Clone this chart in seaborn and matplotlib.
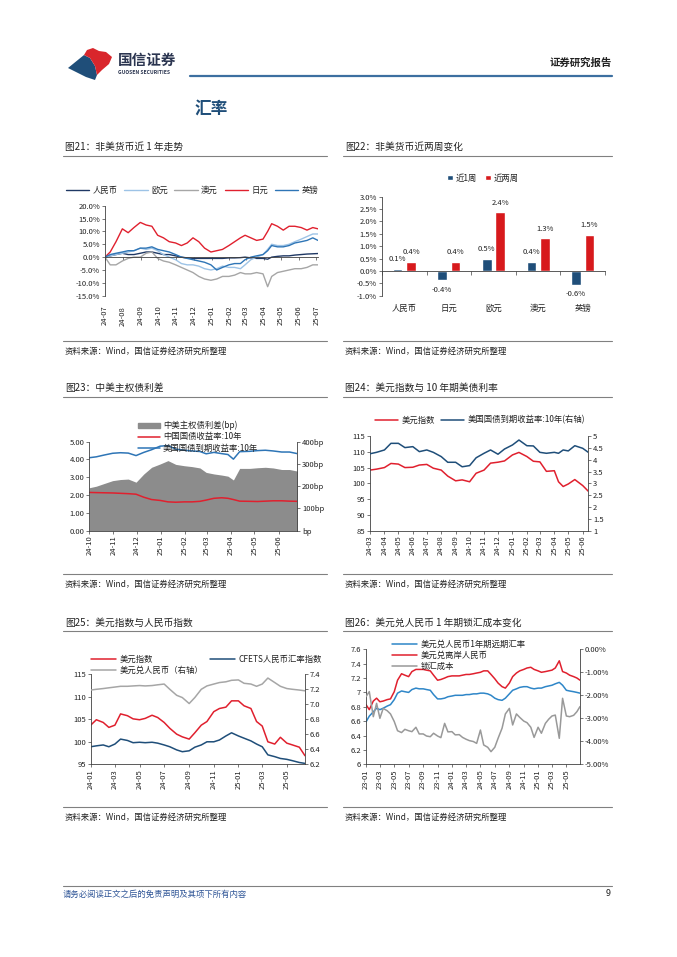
import pandas as pd
import matplotlib
matplotlib.use('Agg')
import matplotlib.pyplot as plt
import matplotlib.dates as mdates
import matplotlib.ticker as mticker
from matplotlib.lines import Line2D
from matplotlib.patches import Polygon, Patch
import seaborn as sns

sns.set_style('ticks')
plt.rcParams['font.family'] = ['Noto Sans CJK SC', 'DejaVu Sans']
plt.rcParams['axes.unicode_minus'] = False

W, H = 677, 957

# ---------------- data ----------------
# 图21 非美货币近1年走势 (%)
d21 = ['2024-07-01', '2024-07-10', '2024-07-20', '2024-07-31', '2024-08-10', '2024-08-20', '2024-08-31',
       '2024-09-10', '2024-09-20', '2024-09-30', '2024-10-10', '2024-10-20', '2024-10-31', '2024-11-10',
       '2024-11-20', '2024-11-30', '2024-12-10', '2024-12-20', '2024-12-31', '2025-01-10', '2025-01-20',
       '2025-01-31', '2025-02-10', '2025-02-20', '2025-02-28', '2025-03-10', '2025-03-20', '2025-03-31',
       '2025-04-08', '2025-04-15', '2025-04-25', '2025-05-05', '2025-05-15', '2025-05-25', '2025-06-05',
       '2025-06-15', '2025-06-25', '2025-07-04']
cny21 = [0, 0.5, 1, 1.5, 1, 1, 1.5, 2, 2, 1.5, 1, 1, 0.5, 0, -0.3, -0.5, -0.5, -0.5, -0.5, -0.5,
         -0.5, -0.3, -0.3, -0.2, 0, -0.3, -0.5, -0.5, -0.8, 0, 0.3, 0.5, 0.5, 0.8, 1, 1.2, 1.3, 1.4]
eur21 = [0, 0.5, 1, 1.5, 2, 2.5, 3.5, 3, 3.5, 2.5, 1, 0, -1, -2.5, -3, -3, -3.5, -4.5, -5, -4.5,
         -3.5, -4, -4, -4.5, -3, -1, 0, 1, 3, 5, 4.5, 4.5, 5, 6, 7, 8, 9, 9]
aud21 = [0, -3, -3, -1.5, -0.5, 0, 0, 1.5, 2, -0.5, -1.5, -2, -3, -4, -5, -6, -7.5, -8.5, -9, -8.5,
         -7.5, -7.5, -7, -6, -6.5, -6.5, -6, -6.5, -11.5, -7.5, -6, -5.5, -5, -4.5, -4.5, -4, -3, -3]
jpy21 = [0, 2, 6, 11, 9.5, 11.5, 13.5, 12.5, 12, 8.5, 7.5, 6, 5.5, 4.5, 5.5, 7.5, 6, 3.5, 2, 2.5,
         3, 4.5, 6, 7.5, 8.5, 7.5, 6.5, 7, 10, 13, 12, 10.5, 12, 12, 11.5, 10.5, 11.5, 11]
gbp21 = [0, 1, 1.5, 2, 2.5, 2.5, 3.5, 3.5, 4, 3, 2.5, 2, 1, 0, -0.5, -1, -1.5, -2, -3, -5,
         -4, -3, -2.5, -2.5, -1, 0, 0.5, 1, 2.5, 4.5, 4, 4, 4.5, 5.5, 6, 6.5, 7.5, 6.5]

# 图22 非美货币近两周变化 (%)
cats22 = ['人民币', '日元', '欧元', '澳元', '英镑']
wk1_22 = [0.08, -0.37, 0.50, 0.38, -0.56]
wk2_22 = [0.36, 0.38, 2.37, 1.32, 1.46]

# 图23 中美主权债利差
d23 = ['2024-10-01', '2024-10-10', '2024-10-20', '2024-10-31', '2024-11-10', '2024-11-20', '2024-11-30',
       '2024-12-10', '2024-12-20', '2024-12-31', '2025-01-10', '2025-01-20', '2025-01-31', '2025-02-10',
       '2025-02-20', '2025-02-28', '2025-03-10', '2025-03-20', '2025-03-28', '2025-04-04', '2025-04-12',
       '2025-04-25', '2025-05-05', '2025-05-15', '2025-05-25', '2025-06-05', '2025-06-15', '2025-06-25']
spread23 = [193, 200, 212, 225, 230, 232, 218, 255, 285, 300, 315, 298, 292, 288, 282, 262, 255, 250,
            245, 228, 280, 280, 283, 285, 282, 275, 275, 268]
cn23 = [2.15, 2.14, 2.13, 2.12, 2.10, 2.08, 2.05, 1.88, 1.75, 1.70, 1.62, 1.60, 1.62, 1.62, 1.65, 1.72,
        1.82, 1.85, 1.82, 1.75, 1.66, 1.65, 1.64, 1.66, 1.68, 1.68, 1.66, 1.65]
us23 = [4.10, 4.15, 4.25, 4.35, 4.38, 4.36, 4.22, 4.40, 4.55, 4.75, 4.78, 4.58, 4.52, 4.48, 4.45, 4.32,
        4.40, 4.33, 4.28, 4.02, 4.44, 4.46, 4.50, 4.52, 4.48, 4.42, 4.42, 4.33]

# 图24 美元指数与10年期美债利率
d24 = ['2024-03-01', '2024-03-15', '2024-04-01', '2024-04-15', '2024-05-01', '2024-05-15', '2024-06-01',
       '2024-06-15', '2024-07-01', '2024-07-15', '2024-08-01', '2024-08-15', '2024-09-01', '2024-09-15',
       '2024-10-01', '2024-10-15', '2024-11-01', '2024-11-15', '2024-12-01', '2024-12-15', '2025-01-01',
       '2025-01-15', '2025-02-01', '2025-02-15', '2025-03-01', '2025-03-15', '2025-04-01', '2025-04-10',
       '2025-04-20', '2025-05-01', '2025-05-15', '2025-06-01', '2025-06-13']
dxy24 = [104.2, 104.5, 105.0, 106.3, 106.1, 105.0, 105.1, 105.8, 106.0, 104.8, 104.2, 102.3, 100.8,
         101.1, 100.5, 103.2, 104.2, 106.4, 106.7, 107.1, 109.0, 109.8, 108.5, 107.0, 106.8, 103.8,
         104.0, 100.5, 99.0, 99.8, 101.2, 99.3, 97.5]
us24 = [4.25, 4.31, 4.41, 4.69, 4.69, 4.51, 4.55, 4.34, 4.41, 4.31, 4.13, 3.89, 3.89, 3.70, 3.75, 4.08,
        4.27, 4.41, 4.23, 4.45, 4.62, 4.83, 4.59, 4.58, 4.31, 4.27, 4.31, 4.27, 4.41, 4.37, 4.59, 4.48, 4.31]

# 图25 美元指数与人民币指数
d25 = ['2024-01-01', '2024-01-15', '2024-02-01', '2024-02-15', '2024-03-01', '2024-03-15', '2024-04-01',
       '2024-04-15', '2024-05-01', '2024-05-15', '2024-06-01', '2024-06-15', '2024-07-01', '2024-07-15',
       '2024-08-01', '2024-08-15', '2024-09-01', '2024-09-15', '2024-10-01', '2024-10-15', '2024-11-01',
       '2024-11-15', '2024-12-01', '2024-12-15', '2025-01-01', '2025-01-15', '2025-02-01', '2025-02-15',
       '2025-03-01', '2025-03-15', '2025-04-01', '2025-04-15', '2025-05-01', '2025-05-15', '2025-06-01',
       '2025-06-15']
dxy25 = [103.7, 104.9, 104.3, 103.2, 103.7, 106.2, 105.8, 105.1, 104.9, 105.2, 105.9, 105.4, 104.3,
         103.0, 101.7, 101.1, 100.6, 102.0, 103.7, 104.5, 106.7, 107.4, 107.7, 109.1, 109.1, 108.0,
         107.4, 104.5, 103.5, 100.0, 99.5, 101.0, 99.7, 99.3, 98.8, 96.9]
cfets25 = [98.9, 99.1, 99.3, 98.9, 99.5, 100.6, 100.3, 99.8, 99.9, 99.8, 99.9, 99.7, 99.3, 98.9, 98.2,
           97.8, 98.0, 98.8, 99.3, 100.0, 100.0, 100.4, 101.3, 102.0, 101.3, 100.8, 100.2, 99.5, 98.9,
           97.1, 96.7, 96.3, 96.1, 95.8, 95.4, 95.2]
usdcny25 = [7.19, 7.20, 7.21, 7.22, 7.23, 7.24, 7.24, 7.245, 7.25, 7.245, 7.25, 7.26, 7.27, 7.20, 7.12,
            7.09, 7.01, 7.09, 7.20, 7.245, 7.27, 7.29, 7.30, 7.32, 7.325, 7.28, 7.27, 7.24, 7.27, 7.35,
            7.29, 7.24, 7.21, 7.20, 7.19, 7.18]

# 图26 美元兑人民币1年期锁汇成本变化
d26 = ['2023-01-01', '2023-01-15', '2023-02-01', '2023-02-15', '2023-03-01', '2023-03-15', '2023-04-01',
       '2023-04-15', '2023-05-01', '2023-05-15', '2023-06-01', '2023-06-15', '2023-07-01', '2023-07-15',
       '2023-08-01', '2023-08-15', '2023-09-01', '2023-09-15', '2023-10-01', '2023-10-15', '2023-11-01',
       '2023-11-15', '2023-12-01', '2023-12-15', '2024-01-01', '2024-01-15', '2024-02-01', '2024-02-15',
       '2024-03-01', '2024-03-15', '2024-04-01', '2024-04-15', '2024-05-01', '2024-05-15', '2024-06-01',
       '2024-06-15', '2024-07-01', '2024-07-15', '2024-08-01', '2024-08-15', '2024-09-01', '2024-09-15',
       '2024-10-01', '2024-10-15', '2024-11-01', '2024-11-15', '2024-12-01', '2024-12-15', '2025-01-01',
       '2025-01-15', '2025-02-01', '2025-02-15', '2025-03-01', '2025-03-15', '2025-04-01', '2025-04-15',
       '2025-05-01', '2025-05-15', '2025-06-01', '2025-06-15', '2025-06-28']
fwd26 = [6.59, 6.67, 6.73, 6.78, 6.76, 6.78, 6.81, 6.83, 6.90, 6.99, 7.02, 7.01, 7.00, 7.04, 7.06, 7.05,
         7.05, 7.04, 7.03, 6.97, 6.91, 6.91, 6.92, 6.94, 6.95, 6.96, 6.96, 6.96, 6.97, 6.97, 6.98, 6.98,
         6.99, 6.99, 6.98, 6.96, 6.92, 6.90, 6.89, 6.92, 6.98, 7.03, 7.05, 7.07, 7.08, 7.08, 7.06, 7.05,
         7.06, 7.06, 7.08, 7.09, 7.10, 7.12, 7.14, 7.10, 7.03, 7.02, 7.01, 7.00, 6.99]
cnh26 = [6.83, 6.76, 6.88, 6.92, 6.87, 6.88, 6.90, 6.91, 7.01, 7.17, 7.26, 7.24, 7.22, 7.29, 7.32, 7.32,
         7.32, 7.31, 7.30, 7.24, 7.17, 7.18, 7.20, 7.22, 7.23, 7.23, 7.23, 7.24, 7.25, 7.25, 7.26, 7.27,
         7.28, 7.30, 7.30, 7.25, 7.19, 7.13, 7.08, 7.06, 7.13, 7.22, 7.27, 7.30, 7.32, 7.34, 7.35, 7.32,
         7.30, 7.28, 7.29, 7.30, 7.31, 7.34, 7.44, 7.29, 7.27, 7.24, 7.22, 7.20, 7.17]
lock26 = [-2.06, -1.84, -2.93, -2.35, -3.00, -2.57, -2.67, -2.81, -3.14, -3.54, -3.62, -3.48, -3.54,
          -3.58, -3.39, -3.68, -3.68, -3.77, -3.80, -3.65, -3.77, -3.84, -3.22, -3.59, -3.58, -3.72,
          -3.71, -3.83, -3.91, -3.97, -4.01, -4.09, -3.51, -4.16, -4.26, -4.45, -4.26, -3.87, -3.43,
          -2.81, -2.57, -3.29, -2.81, -2.96, -3.12, -3.19, -3.39, -3.83, -3.39, -3.65, -3.22, -3.04,
          -2.90, -2.86, -3.87, -2.13, -2.90, -2.93, -2.87, -2.71, -2.49]

RED = '#e0202e'
NAVY = '#1f4e79'
GRAY = '#a6a6a6'
AX = '#404040'
TXT = '#222222'


def box(l, t, r, b):
    return [l / W, 1 - b / H, (r - l) / W, (b - t) / H]


def fpt(x, y):
    return (x / W, 1 - y / H)


def ftext(x, y, s, **kw):
    kw.setdefault('va', 'center')
    kw.setdefault('color', TXT)
    fig.text(x / W, 1 - y / H, s, **kw)


def hline(x0, x1, y, color='#808080', lw=0.8):
    fig.add_artist(Line2D([x0 / W, x1 / W], [1 - y / H] * 2, transform=fig.transFigure, color=color, lw=lw))


def spines(ax, show):
    for s in ax.spines:
        ax.spines[s].set_visible(s in show)
        ax.spines[s].set_color(AX)
        ax.spines[s].set_linewidth(0.6)
    ax.tick_params(labelsize=5.5, length=2, width=0.5, color=AX, pad=1.5, labelcolor=TXT)
    ax.set_xlabel('')
    ax.set_ylabel('')


def dates_axis(ax, dates, months):
    ax.set_xlim(dates.iloc[0], dates.iloc[-1])
    ax.xaxis.set_major_locator(mdates.MonthLocator(bymonth=months))
    ax.xaxis.set_major_formatter(mdates.DateFormatter('%y-%m'))
    ax.tick_params(axis='x', rotation=90)


def legend(ax, handles, labels, x, y, loc, **kw):
    lg = ax.legend(handles, labels, loc=loc, bbox_to_anchor=fpt(x, y), bbox_transform=fig.transFigure,
                   frameon=False, fontsize=6, borderpad=0, borderaxespad=0, handletextpad=0.4, **kw)
    for t in lg.get_texts():
        t.set_color(TXT)
    return lg


fig = plt.figure(figsize=(W / 100, H / 100), dpi=100)

# ---------------- page header ----------------
fig.add_artist(Polygon([fpt(*p) for p in [(68, 68), (84, 55), (90, 58), (95, 66), (97, 75), (95, 80),
                                          (86, 77)]],
                       closed=True, transform=fig.transFigure, color='#1f4e79', lw=0))
fig.add_artist(Polygon([fpt(*p) for p in [(84, 55), (87, 50), (93, 48), (99, 51), (106, 52), (112, 57),
                                          (109, 64), (102, 70), (97, 75), (95, 66), (90, 58)]],
                       closed=True, transform=fig.transFigure, color='#d9262c', lw=0))
ftext(118, 60, '国信证券', fontsize=10.5, fontweight='bold', color='#2b3550')
ftext(118, 72.5, 'GUOSEN SECURITIES', fontsize=3.6, fontweight='bold', color='#2b3550')
ftext(612, 63, '证券研究报告', fontsize=7.5, fontweight='bold', ha='right')
hline(190, 612, 75.5, color='#3c6fa0', lw=1.6)
ftext(195, 109, '汇率', fontsize=12, fontweight='bold', color='#1f4e79')

# titles / separators / sources
for x0, x1, ty, ly, sy, title in [
        (63, 327, 147, 155.5, 341, '图21：非美货币近 1 年走势'),
        (343, 612, 147, 155.5, 341, '图22：非美货币近两周变化'),
        (63, 327, 388, 397, 574, '图23：中美主权债利差'),
        (343, 612, 388, 397, 574, '图24：美元指数与 10 年期美债利率'),
        (63, 327, 622.5, 631, 807, '图25：美元指数与人民币指数'),
        (343, 612, 622.5, 631, 807, '图26：美元兑人民币 1 年期锁汇成本变化')]:
    ftext(x0 + 2, ty, title, fontsize=7)
    hline(x0, x1, ly)
    hline(x0, x1, sy)
    ftext(x0 + 2, sy + 10, '资料来源：Wind，国信证券经济研究所整理', fontsize=6)

# footer
hline(63, 612, 886)
ftext(63, 894, '请务必阅读正文之后的免责声明及其项下所有内容', fontsize=6, color='#2f5597', style='italic')
ftext(611, 894, '9', fontsize=6.5, ha='right')

# ---------------- 图21 ----------------
ax = fig.add_axes(box(105, 205.7, 318, 295.7))
x21 = pd.to_datetime(pd.Series(d21))
for vals, name, col in [(cny21, '人民币', '#1f3864'), (eur21, '欧元', '#9dc3e6'), (aud21, '澳元', GRAY),
                        (jpy21, '日元', RED), (gbp21, '英镑', '#2e75b6')]:
    sns.lineplot(x=x21, y=vals, ax=ax, color=col, lw=1.0, label=name, legend=False)
spines(ax, ['left', 'bottom'])
ax.spines['bottom'].set_position(('data', 0))
ax.set_ylim(-15, 20)
ax.set_yticks(range(-15, 21, 5))
ax.yaxis.set_major_formatter(mticker.StrMethodFormatter('{x:.1f}%'))
dates_axis(ax, x21, range(1, 13))
ax.tick_params(axis='x', pad=33)
h, l = ax.get_legend_handles_labels()
legend(ax, h, l, 192, 190, 'center', ncol=5, handlelength=2.8, columnspacing=0.8)

# ---------------- 图22 ----------------
ax = fig.add_axes(box(382, 196.7, 605, 295.7))
df22 = pd.DataFrame({'cat': cats22 * 2, 'period': ['近1周'] * 5 + ['近两周'] * 5, 'val': wk1_22 + wk2_22})
sns.barplot(data=df22, x='cat', y='val', hue='period', palette={'近1周': NAVY, '近两周': '#d7191c'},
            width=0.6, gap=0.28, saturation=1, ax=ax)
for cont in ax.containers:
    ax.bar_label(cont, labels=[f'{v:.1f}%' for v in cont.datavalues], padding=4, fontsize=5.5, color=TXT)
spines(ax, ['left', 'bottom'])
ax.spines['bottom'].set_position(('data', 0))
ax.set_ylim(-1, 3)
ax.set_xlim(-0.5, 4.5)
ax.set_yticks([-1, -0.5, 0, 0.5, 1, 1.5, 2, 2.5, 3])
ax.yaxis.set_major_formatter(mticker.StrMethodFormatter('{x:.1f}%'))
ax.xaxis.set_minor_locator(mticker.MultipleLocator(1, offset=0.5))
ax.tick_params(axis='x', which='minor', length=3, width=0.5, color=AX)
ax.tick_params(axis='x', which='major', length=0, pad=24, labelsize=6)
h, l = ax.get_legend_handles_labels()
legend(ax, h, l, 483, 178, 'center', ncol=2, handlelength=0.7, handleheight=0.7, columnspacing=0.9)

# ---------------- 图23 ----------------
ax = fig.add_axes(box(89.3, 441.7, 297.3, 530.7))
ax2 = ax.twinx()
x23 = pd.to_datetime(pd.Series(d23))
ax2.fill_between(x23, spread23, color='#8c8c8c', lw=0)
sns.lineplot(x=x23, y=cn23, ax=ax, color=RED, lw=1.1, legend=False)
sns.lineplot(x=x23, y=us23, ax=ax, color='#2e75b6', lw=1.1, legend=False)
ax.set_zorder(ax2.get_zorder() + 1)
ax.patch.set_visible(False)
spines(ax, ['left', 'bottom'])
spines(ax2, ['right'])
ax.set_ylim(0, 5)
ax.yaxis.set_major_formatter(mticker.StrMethodFormatter('{x:.2f}'))
ax2.set_ylim(0, 400)
ax2.set_yticks([0, 100, 200, 300, 400])
ax2.yaxis.set_major_formatter(mticker.FuncFormatter(lambda v, p: 'bp' if v == 0 else f'{v:.0f}bp'))
dates_axis(ax, x23, range(1, 13))
legend(ax, [Patch(color='#8c8c8c'), Line2D([], [], color=RED, lw=1.1), Line2D([], [], color='#2e75b6', lw=1.1)],
       ['中美主权债利差(bp)', '中国国债收益率:10年', '美国国债到期收益率:10年'], 138, 421, 'upper left',
       handlelength=2.6, labelspacing=0.25)

# ---------------- 图24 ----------------
ax = fig.add_axes(box(370, 436, 588.3, 530.7))
ax2 = ax.twinx()
x24 = pd.to_datetime(pd.Series(d24))
sns.lineplot(x=x24, y=dxy24, ax=ax, color=RED, lw=1.1, legend=False)
sns.lineplot(x=x24, y=us24, ax=ax2, color=NAVY, lw=1.1, legend=False)
spines(ax, ['left', 'bottom'])
spines(ax2, ['right'])
ax.set_ylim(85, 115)
ax.set_yticks(range(85, 116, 5))
ax2.set_ylim(1, 5)
ax2.set_yticks([1, 1.5, 2, 2.5, 3, 3.5, 4, 4.5, 5])
ax2.yaxis.set_major_formatter(mticker.StrMethodFormatter('{x:g}'))
dates_axis(ax, x24, range(1, 13))
legend(ax, [Line2D([], [], color=RED, lw=1.1), Line2D([], [], color=NAVY, lw=1.1)],
       ['美元指数', '美国国债到期收益率:10年(右轴)'], 480, 420, 'center', ncol=2, handlelength=2.7,
       columnspacing=0.8)

# ---------------- 图25 ----------------
ax = fig.add_axes(box(90.7, 674.3, 305, 764.3))
ax2 = ax.twinx()
x25 = pd.to_datetime(pd.Series(d25))
sns.lineplot(x=x25, y=dxy25, ax=ax, color=RED, lw=1.1, legend=False)
sns.lineplot(x=x25, y=cfets25, ax=ax, color=NAVY, lw=1.1, legend=False)
sns.lineplot(x=x25, y=usdcny25, ax=ax2, color=GRAY, lw=1.1, legend=False)
spines(ax, ['left', 'bottom'])
spines(ax2, ['right'])
ax.set_ylim(95, 115)
ax.set_yticks(range(95, 116, 5))
ax2.set_ylim(6.2, 7.4)
ax2.set_yticks([6.2, 6.4, 6.6, 6.8, 7.0, 7.2, 7.4])
ax2.yaxis.set_major_formatter(mticker.StrMethodFormatter('{x:.1f}'))
dates_axis(ax, x25, [1, 3, 5, 7, 9, 11])
legend(ax, [Line2D([], [], color=RED, lw=1.1), Line2D([], [], color=GRAY, lw=1.1),
            Line2D([], [], color=NAVY, lw=1.1)],
       ['美元指数', '美元兑人民币（右轴）', 'CFETS人民币汇率指数'], 91, 655, 'upper left', ncol=2,
       handlelength=3, columnspacing=0.8, labelspacing=0.2)

# ---------------- 图26 ----------------
ax = fig.add_axes(box(366, 649.3, 580, 764.3))
ax2 = ax.twinx()
x26 = pd.to_datetime(pd.Series(d26))
sns.lineplot(x=x26, y=fwd26, ax=ax, color='#2e86c8', lw=1.1, legend=False)
sns.lineplot(x=x26, y=cnh26, ax=ax, color=RED, lw=1.1, legend=False)
sns.lineplot(x=x26, y=lock26, ax=ax2, color='#999999', lw=1.1, legend=False)
spines(ax, ['left', 'bottom'])
spines(ax2, ['right'])
ax.set_ylim(6, 7.6)
ax.set_yticks([6, 6.2, 6.4, 6.6, 6.8, 7, 7.2, 7.4, 7.6])
ax.yaxis.set_major_formatter(mticker.StrMethodFormatter('{x:g}'))
ax2.set_ylim(-5, 0)
ax2.set_yticks([-5, -4, -3, -2, -1, 0])
ax2.yaxis.set_major_formatter(mticker.StrMethodFormatter('{x:.2f}%'))
dates_axis(ax, x26, [1, 3, 5, 7, 9, 11])
legend(ax, [Line2D([], [], color='#2e86c8', lw=1.1), Line2D([], [], color=RED, lw=1.1),
            Line2D([], [], color='#999999', lw=1.1)],
       ['美元兑人民币1年期远期汇率', '美元兑离岸人民币', '锁汇成本'], 392, 640, 'upper left',
       handlelength=3, labelspacing=0.25)

fig.savefig('out.png', dpi=100)
